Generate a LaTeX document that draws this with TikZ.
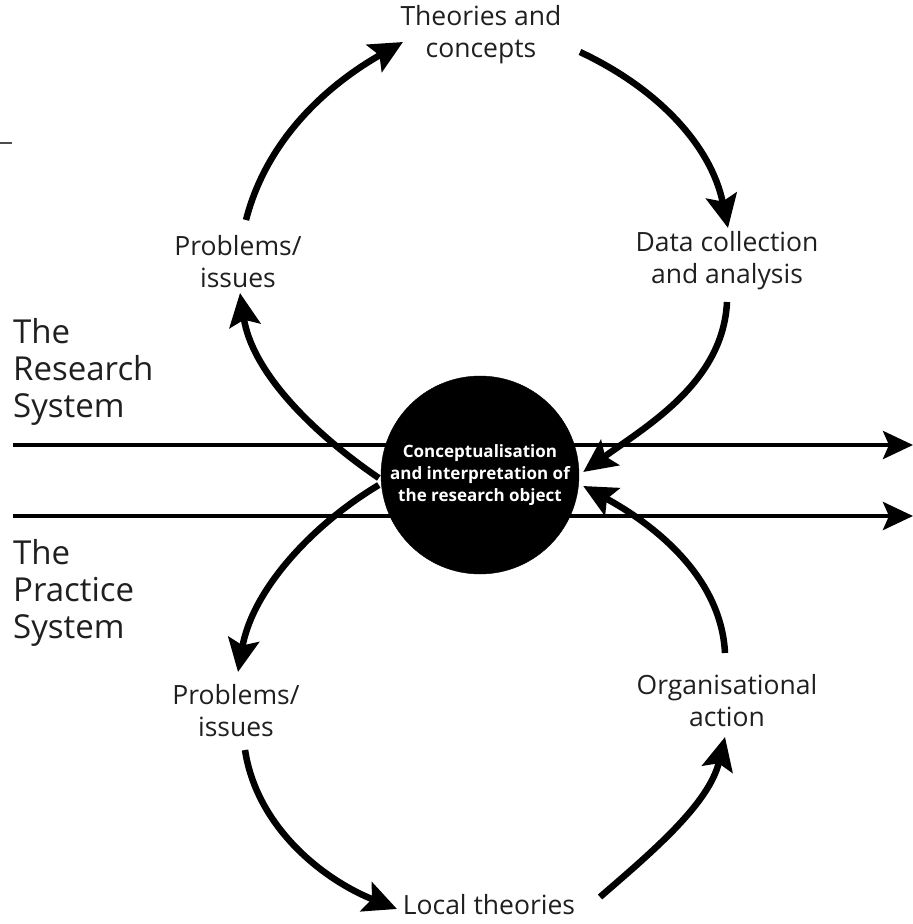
\documentclass[tikz,border=0pt]{standalone}
\usepackage{fontspec}
\setmainfont{Open Sans}
\usetikzlibrary{arrows.meta}
\begin{document}
\begin{tikzpicture}[x=1pt,y=-1pt,
  lbl/.style={align=center,inner sep=0pt,text=black!88,font=\fontsize{26.5}{32}\selectfont},
  sys/.style={align=left,anchor=west,inner sep=0pt,text=black!88,font=\fontsize{33}{37}\selectfont},
  arc/.style={line width=6.5pt,-{Stealth[length=33pt,width=31pt,inset=6pt]}},
  axis/.style={line width=4.5pt,-{Stealth[length=30pt,width=28pt,inset=6pt]}},
  core/.style={circle,fill=black,draw=black,minimum size=198pt,inner sep=0pt,
    text=white,align=center,font=\bfseries\fontsize{17}{22}\selectfont}]
\useasboundingbox (0,0) rectangle (913,924);
% stray rule at top left
\coordinate (s1) at (0,143);
\coordinate (s2) at (12,143);
\draw[line width=2pt,black!70] (s1) -- (s2);
% system axes
\coordinate (l1s) at (13,445);
\coordinate (l1e) at (913,445);
\coordinate (l2s) at (13,516);
\coordinate (l2e) at (913,516);
\draw[axis] (l1s) -- (l1e);
\draw[axis] (l2s) -- (l2e);
% central node
\node[core] (circ) at (480,475) {Conceptualisation\\and interpretation of\\the research object};
% labels
\node[lbl] (theo) at (481,35) {Theories and\\concepts};
\node[lbl] (prob1) at (238,262) {Problems/\\issues};
\node[lbl] (data) at (727,261) {Data collection\\and analysis};
\node[lbl] (prob2) at (236,711) {Problems/\\issues};
\node[lbl] (org) at (727,701) {Organisational\\action};
\node[lbl] (local) at (489,905) {Local theories};
\node[sys] (rsys) at (13,372) {The\\Research\\System};
\node[sys] (psys) at (13,593) {The\\Practice\\System};
% research cycle
\draw[arc] ([shift={(-2,3)}]circ.west) .. controls +(-66,-45) and +(12,79) .. ([shift={(2,31)}]prob1.center);
\draw[arc] ([shift={(8,-42)}]prob1.center) .. controls +(21,-82) and +(-74,42) .. ([shift={(-78,7)}]theo.center);
\draw[arc] ([shift={(99,17)}]theo.center) .. controls +(77,36) and +(-17,-83) .. ([shift={(1,-33)}]data.center);
\draw[arc] ([shift={(0,41)}]data.center) .. controls +(-4,80) and +(65,-47) .. ([shift={(4,-3)}]circ.east);
% practice cycle
\draw[arc] ([shift={(-2,10)}]circ.west) .. controls +(-70,42) and +(14,-80) .. ([shift={(2,-39)}]prob2.center);
\draw[arc] ([shift={(9,39)}]prob2.center) .. controls +(12,78) and +(-73,-29) .. ([shift={(-92,4)}]local.center);
\draw[arc] ([shift={(111,-8)}]local.center) .. controls +(52,-45) and +(-16,67) .. ([shift={(-2,36)}]org.center);
\draw[arc] ([shift={(-2,-48)}]org.center) .. controls +(-4,-78) and +(68,37) .. ([shift={(4,11)}]circ.east);
\end{tikzpicture}
\end{document}
